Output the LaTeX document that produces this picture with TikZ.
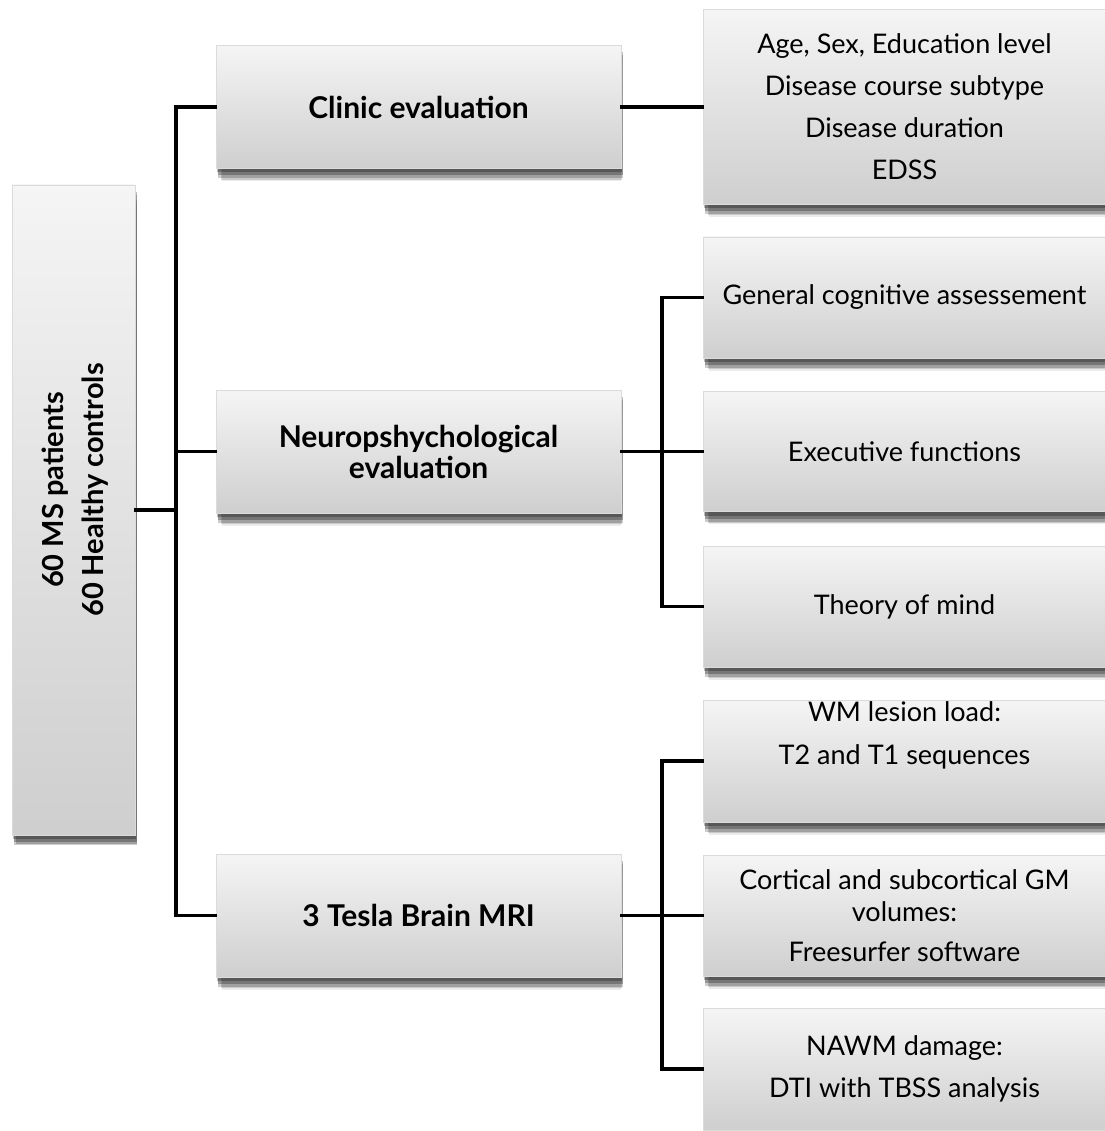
\documentclass[tikz,border=0pt]{standalone}
\usepackage{fontspec}
\setmainfont{Lato}
\usetikzlibrary{shadows}
\begin{document}
\begin{tikzpicture}[x=1pt,y=-1pt,
  box/.style={draw=black!14, line width=0.8pt, top color=black!4, bottom color=black!19,
    align=center, inner sep=0pt, font=\fontsize{27}{32}\selectfont,
    general shadow={shadow xshift=3pt, shadow yshift=-14pt, shadow scale=0.985, fill=black, opacity=0.08},
    general shadow={shadow xshift=3pt, shadow yshift=-12pt, shadow scale=0.99, fill=black, opacity=0.14},
    general shadow={shadow xshift=2pt, shadow yshift=-10pt, fill=black, opacity=0.2},
    general shadow={shadow xshift=2pt, shadow yshift=-7pt, fill=black, opacity=0.26},
    general shadow={shadow xshift=1pt, shadow yshift=-4pt, fill=black, opacity=0.26}},
  midbox/.style={box, minimum width=405pt, minimum height=123pt, font=\fontsize{30}{31}\selectfont\bfseries},
  rbox/.style={box, minimum width=403pt, minimum height=120pt},
  conn/.style={draw=black, line width=3.2pt, line cap=rect}]
\useasboundingbox (0,0) rectangle (1104,1131);
\fill[white] (0,0) rectangle (1104,1131);

% root
\node[box, minimum width=123pt, minimum height=650pt] (root) at (73.5,510) {};
\node[rotate=90, align=center, inner sep=0pt, font=\fontsize{29}{40}\selectfont\bfseries]
  (roottext) at (75,490) {60 MS patients\\60 Healthy controls};

% level 1
\node[midbox] (clinic) at (418.5,107) {Clinic evaluation};
\node[midbox] (neuro) at (418.5,451.5) {Neuropshychological\\evaluation};
\node[midbox] (mri) at (418.5,915.5) {3 Tesla Brain MRI};

% level 2
\node[rbox, minimum height=195pt, font=\fontsize{27}{42}\selectfont] (demo) at (904.5,107)
  {Age, Sex, Education level\\Disease course subtype\\Disease duration\\EDSS};
\node[rbox, minimum height=121pt] (gen) at (904.5,297.5) {General cognitive assessement};
\node[rbox] (exe) at (904.5,451.5) {Executive functions};
\node[rbox, minimum height=121pt] (tom) at (904.5,606.5) {Theory of mind};
\node[rbox, minimum height=122pt, font=\fontsize{27}{43}\selectfont] (wm) at (904.5,761)
  {WM lesion load:\\T2 and T1 sequences\\\strut};
\node[rbox, minimum height=121pt] (gm) at (904.5,915.5)
  {Cortical and subcortical GM\\volumes:\\[8pt]Freesurfer software};
\node[rbox, minimum height=122pt, font=\fontsize{27}{42}\selectfont] (nawm) at (904.5,1069)
  {NAWM damage:\\DTI with TBSS analysis};

% connectors
\coordinate (tj) at (176,510);
\coordinate (nj) at (662,451.5);
\coordinate (mj) at (662,915.5);
\draw[conn] (root.east) -- (tj);
\draw[conn] (clinic.west) -| (tj) |- (mri.west);
\draw[conn] (neuro.west) -- (neuro.west -| tj);
\draw[conn] (clinic.east) -- (demo.west);
\draw[conn] (neuro.east) -- (nj);
\draw[conn] (gen.west) -| (nj) |- (tom.west);
\draw[conn] (exe.west) -- (nj);
\draw[conn] (mri.east) -- (mj);
\draw[conn] (wm.west) -| (mj) |- (nawm.west);
\draw[conn] (gm.west) -- (mj);
\end{tikzpicture}
\end{document}
